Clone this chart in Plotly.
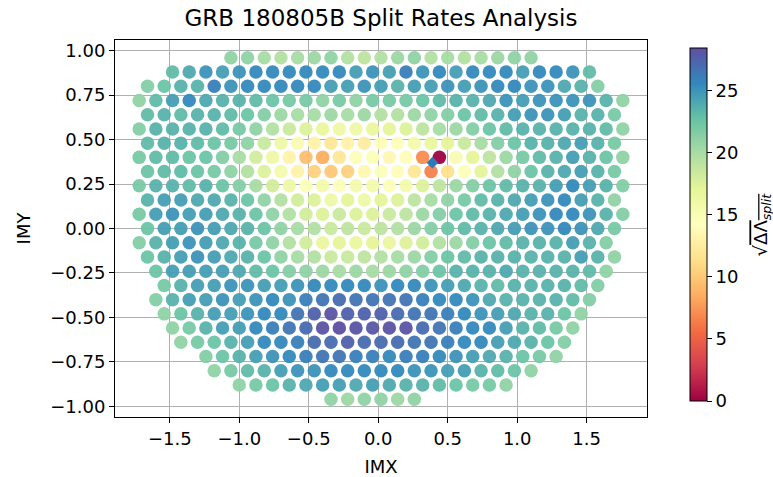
import plotly.graph_objects as go

# ColorBrewer "Spectral" (11 classes), low -> high
SPECTRAL = ['#9e0142', '#d53e4f', '#f46d43', '#fdae61', '#fee08b', '#ffffbf',
            '#e6f598', '#abdda4', '#66c2a5', '#3288bd', '#5e4fa2']

# Hexagonal IMX/IMY test grid: rows of constant IMY, columns stepped in IMX
IMX_STEP = 0.12
IMY_STEP = 0.08
ROW_SHIFT = {0: 0.02, 1: -0.04}   # IMX offset of even / odd rows

# sqrt(Delta Lambda_split) per grid row (left to right); row index k -> IMY = k * IMY_STEP
row_p12 = [21, 21, 20, 19.5, 20, 20.5, 21, 19.5, 19, 19.5, 20.5, 21, 19.5, 20, 19.5, 20, 20.5, 21, 21]
row_p11 = [23, 24, 25, 24.5, 25, 25.5, 25.5, 25.5, 25.5, 25.5, 25.5, 24.5, 25, 24.5, 26, 25, 25.5, 24.5,
           25.5, 25.5, 25.5, 24.5, 25.5, 25.5, 25, 23]
row_p10 = [21.5, 22.5, 23.5, 23.5, 26, 25, 25.5, 25.5, 25.5, 25.5, 25.5, 24.5, 24.5, 25, 24.5, 23.5, 24.5,
           24.5, 25, 24.5, 25, 25.5, 25.5, 25, 25, 24, 23.5, 21.5]
row_p09 = [21, 23, 24.5, 25.5, 24, 23.5, 23.5, 23, 22.5, 22, 22, 21, 22, 21, 22, 22, 22, 22.5, 23, 23.5,
           23.5, 24, 25, 24.5, 25, 25, 25, 25, 23.5, 21]
row_p08 = [23, 23.5, 23, 23.5, 23.5, 23, 22.5, 21.5, 20.5, 20, 20, 20.5, 20, 20.5, 19.5, 19.5, 20.5, 21,
           21.5, 22.5, 23, 23.5, 24.5, 25, 25, 24.5, 23.5, 23.5, 22]
row_p07 = [21.5, 23.5, 23.5, 23.5, 23.5, 23, 22, 21, 19.5, 18.5, 17.5, 16.5, 16, 16, 16.5, 17, 17.5, 19,
           20, 20.5, 21.5, 22.5, 23, 23.5, 23.5, 23.5, 23.5, 23.5, 23, 21]
row_p06 = [23, 23.5, 23.5, 23, 22.5, 22, 21, 18.5, 16, 15, 13, 12, 13, 12.5, 14, 14.5, 15.5, 16.5, 17,
           18.5, 20, 21.5, 22.5, 23.5, 23.5, 24, 24.5, 23.5, 22]
row_p05 = [22, 23, 23, 22.5, 22.5, 21.5, 20, 18, 16, 13, 9.5, 8.5, 12, 14, 14.5, 13.5, 14, 7, 0, 15, 17,
           19, 20.5, 22, 23, 23.5, 24.5, 23.5, 22.5, 21]
row_p04 = [22.5, 23, 23, 22.5, 22, 21, 19.5, 17.5, 15.5, 13, 10.5, 10, 10.5, 13.5, 14.5, 14, 12, 6.5,
           11.5, 14.5, 17, 19.5, 21, 22.5, 23.5, 24, 24.5, 23.5, 22]
row_p03 = [22, 23.5, 23.5, 23, 23.5, 22.5, 21.5, 20, 18, 16, 14.5, 15.5, 14.5, 15.5, 15.5, 14.5, 15.5,
           17.5, 19, 20.5, 21.5, 22.5, 23, 23.5, 23.5, 24.5, 25.5, 24.5, 23.5, 21.5]
row_p02 = [23.5, 24.5, 24.5, 24, 24, 23.5, 22.5, 21, 19.5, 18, 17.5, 16, 17, 16, 17, 17.5, 19, 20, 21,
           22, 23, 23.5, 24, 24.5, 25, 25.5, 24.5, 23.5, 21]
row_p01 = [22, 24.5, 25, 24.5, 24.5, 24, 23.5, 22.5, 21, 19.5, 18, 17.5, 18.5, 17.5, 17.5, 18.5, 19,
           20.5, 21.5, 22.5, 23, 23.5, 24, 24.5, 25, 25.5, 25.5, 25, 23.5, 21.5]
row_00 = [22.5, 24.5, 24.5, 25, 24.5, 24, 23.5, 22.5, 21, 20, 19.5, 18.5, 19, 18.5, 19, 19.5, 20.5, 21.5,
          22.5, 23, 23.5, 24, 24.5, 25, 25, 25.5, 25, 24, 22]
row_m01 = [21.5, 23.5, 24.5, 25, 24.5, 24, 23.5, 22, 21, 19.5, 18, 16.5, 17, 16.5, 17, 16.5, 17.5, 18,
           19.5, 20.5, 21.5, 22.5, 23, 23.5, 23.5, 23.5, 24.5, 23.5, 21.5]
row_m02 = [22.5, 23.5, 24.5, 25, 24.5, 24, 23.5, 22.5, 21, 20, 19.5, 18.5, 18.5, 19, 19.5, 20, 20.5,
           21.5, 22.5, 23, 23.5, 23.5, 23.5, 23.5, 23.5, 23.5, 24.5, 23.5, 21]
row_m03 = [22.5, 24.5, 24.5, 24.5, 24.5, 24, 23, 22.5, 21.5, 21, 20.5, 20, 20.5, 20, 20.5, 21, 21.5,
           22.5, 23.5, 23.5, 23.5, 24, 23.5, 23.5, 23.5, 23.5, 23, 21]
row_m04 = [22, 23.5, 24.5, 24.5, 25, 25, 24.5, 24.5, 25, 25.5, 25.5, 25.5, 25.5, 25, 25.5, 25.5, 25,
           24.5, 24, 23.5, 23, 23.5, 23.5, 23.5, 23.5, 23, 21.5]
row_m05 = [21.5, 23.5, 24.5, 24.5, 25, 24.5, 25, 25.5, 25, 26, 26.5, 27, 26.5, 26.5, 26.5, 26.5, 26,
           25.5, 25.5, 25, 24, 23.5, 23.5, 23.5, 23.5, 23, 21.5]
row_m06 = [21, 22.5, 23.5, 24.5, 24.5, 25, 25.5, 25.5, 26.5, 27.5, 28.2, 27.5, 27.5, 27.5, 27, 26.5,
           26.5, 26, 25.5, 25, 24.5, 24, 23.5, 23.5, 22.5, 21]
row_m07 = [21, 22, 23.5, 24.5, 24.5, 25.5, 26, 26.5, 27, 28.2, 28.4, 28.2, 28, 28.2, 28.2, 27, 26.5, 26,
           25.5, 25.5, 24.5, 23.5, 23, 22, 21]
row_m08 = [21, 22, 22.5, 23.5, 24.5, 25.5, 25.5, 26, 27, 27, 27.5, 27, 27, 27, 26.5, 26.5, 26, 25.5,
           25.5, 24.5, 24, 23.5, 22.5, 21.5]
row_m09 = [21.5, 22.5, 23.5, 24.5, 25, 25.5, 26, 26.5, 26.5, 26, 26, 25.5, 26, 26, 25.5, 25, 24.5, 24,
           23.5, 22.5, 22, 21]
row_m10 = [21, 22, 23, 23.5, 24.5, 25, 25, 25.5, 25.5, 25.5, 25.5, 25.5, 25, 25, 24.5, 24.5, 23.5, 23,
           22.5, 21]
row_m11 = [21, 22, 22.5, 23.5, 24, 24.5, 24.5, 24, 24.5, 24, 23.5, 23.5, 23, 22.5, 22, 22, 21]
row_m12 = [21, 20.5, 21, 21, 20.5, 21]

row_index = [12, 11, 10, 9, 8, 7, 6, 5, 4, 3, 2, 1, 0,
             -1, -2, -3, -4, -5, -6, -7, -8, -9, -10, -11, -12]
row_first_col = [-9, -12, -14, -14, -14, -14, -14, -14, -14, -14, -14, -14, -14,
                 -14, -14, -13, -13, -13, -13, -12, -12, -10, -10, -8, -3]
row_values = [row_p12, row_p11, row_p10, row_p09, row_p08, row_p07, row_p06, row_p05, row_p04,
              row_p03, row_p02, row_p01, row_00, row_m01, row_m02, row_m03, row_m04, row_m05,
              row_m06, row_m07, row_m08, row_m09, row_m10, row_m11, row_m12]

# reported burst position
grb_imx = 0.39
grb_imy = 0.37

cbar_min, cbar_max = 0, 28.4
cbar_ticks = [0, 5, 10, 15, 20, 25]
x_ticks = [-1.5, -1.0, -0.5, 0.0, 0.5, 1.0, 1.5]
y_ticks = [-1.0, -0.75, -0.5, -0.25, 0.0, 0.25, 0.5, 0.75, 1.0]

# expand rows into point lists
imx, imy, val = [], [], []
for k, first, vals in zip(row_index, row_first_col, row_values):
    shift = ROW_SHIFT[abs(k) % 2]
    for j, v in enumerate(vals):
        imx.append(round(shift + IMX_STEP * (first + j), 4))
        imy.append(round(IMY_STEP * k, 4))
        val.append(v)

colorscale = [[i / (len(SPECTRAL) - 1), c] for i, c in enumerate(SPECTRAL)]
FONT = "DejaVu Sans"

fig = go.Figure()
fig.add_trace(go.Scatter(
    x=imx, y=imy, mode="markers",
    marker=dict(
        size=13.5, color=val, colorscale=colorscale, cmin=cbar_min, cmax=cbar_max,
        opacity=0.95, line=dict(width=0),
        colorbar=dict(
            thickness=17, len=373, lenmode="pixels", ypad=10,
            x=1.062, xanchor="left", y=0.5106, yanchor="middle",
            outlinewidth=1, outlinecolor="black",
            ticks="outside", ticklen=5, tickwidth=1, tickcolor="black",
            tickvals=cbar_ticks, tickfont=dict(family=FONT, size=18, color="black"),
        ),
    ),
    showlegend=False, hoverinfo="skip",
))
fig.add_trace(go.Scatter(
    x=[grb_imx], y=[grb_imy], mode="markers",
    marker=dict(symbol="diamond", size=9, color="#2b7bba", line=dict(width=0)),
    showlegend=False, hoverinfo="skip",
))

axis_common = dict(
    showline=True, mirror=True, linecolor="black", linewidth=1,
    ticks="outside", ticklen=5, tickwidth=1, tickcolor="black",
    showgrid=True, gridcolor="#b0b0b0", gridwidth=1, zeroline=False,
    tickfont=dict(family=FONT, size=18, color="black"), automargin=False,
)

fig.update_layout(
    width=773, height=477,
    margin=dict(l=115, r=126, t=40, b=60),
    paper_bgcolor="white", plot_bgcolor="white",
    title=dict(text="GRB 180805B Split Rates Analysis", x=0.5, xref="paper",
               y=0.962, yref="container", xanchor="center", yanchor="middle",
               font=dict(family=FONT, size=23, color="black")),
    xaxis=dict(range=[-1.894, 1.934], tickvals=x_ticks, tickformat=".1f",
               title=dict(text="IMX", font=dict(family=FONT, size=18, color="black"), standoff=12),
               **axis_common),
    yaxis=dict(range=[-1.06, 1.06], tickvals=y_ticks, tickformat=".2f",
               title=dict(text="IMY", font=dict(family=FONT, size=18, color="black"), standoff=14),
               **axis_common),
    annotations=[dict(
        text="√<span style='text-decoration:overline'>ΔΛ<sub><i>split</i></sub></span>",
        xref="paper", yref="paper", x=1.216, y=0.5106, xanchor="center", yanchor="middle",
        textangle=-90, showarrow=False,
        font=dict(family=FONT, size=18, color="black"),
    )],
)

fig.write_html("out.html")
